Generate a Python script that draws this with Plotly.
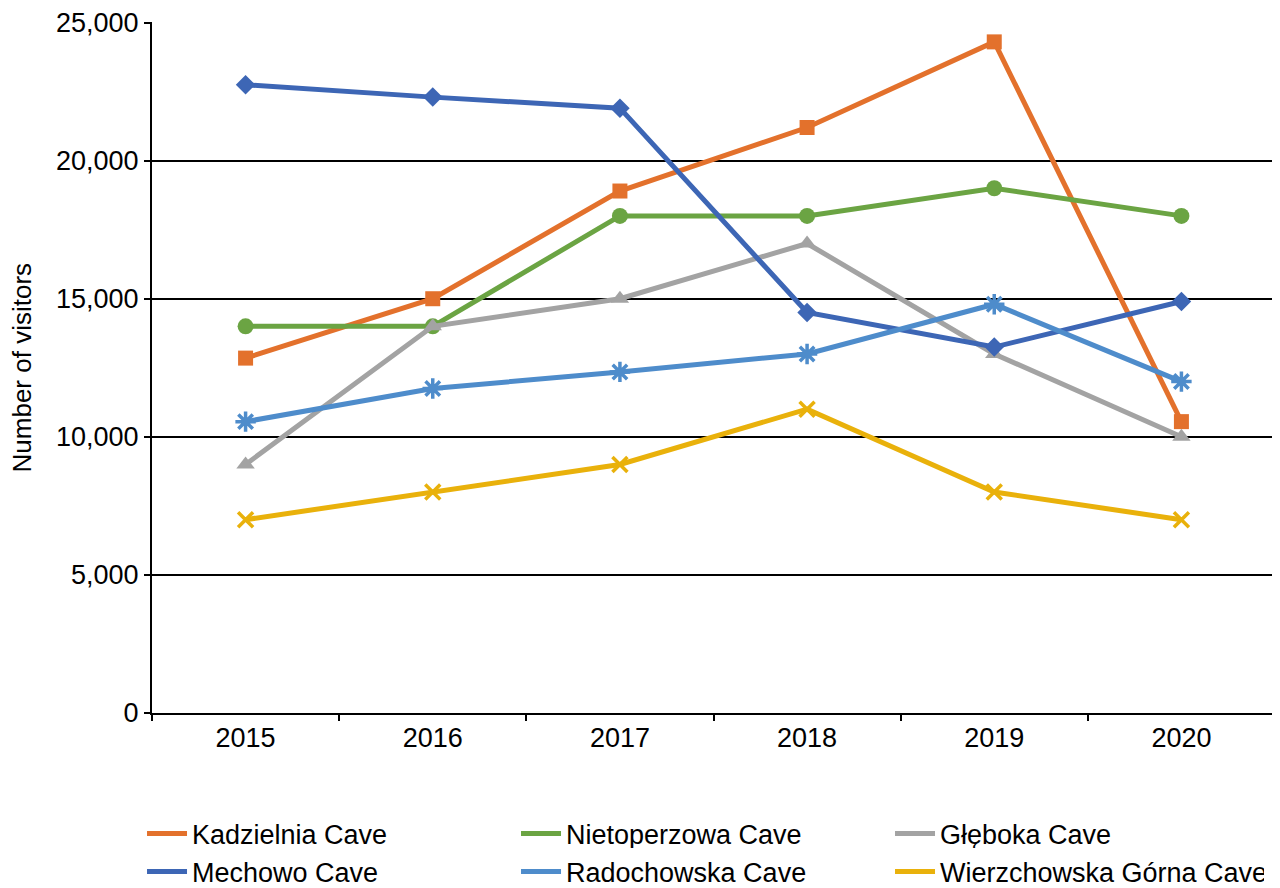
import plotly.graph_objects as go

years = ["2015", "2016", "2017", "2018", "2019", "2020"]

kadzielnia = [12850, 15000, 18900, 21200, 24300, 10550]
nietoperzowa = [14000, 14000, 18000, 18000, 19000, 18000]
gleboka = [9000, 14000, 15000, 17000, 13000, 10000]
mechowo = [22750, 22300, 21900, 14500, 13250, 14900]
radochowska = [10550, 11750, 12350, 13000, 14800, 12000]
wierzchowska = [7000, 8000, 9000, 11000, 8000, 7000]

# name, values, colour, symbol, size, marker line width, legend row
series = [
    ("Kadzielnia Cave", kadzielnia, "#E3712C", "square", 15, 0, "legend"),
    ("Nietoperzowa Cave", nietoperzowa, "#6BA443", "circle", 16, 0, "legend"),
    ("Głęboka Cave", gleboka, "#A3A3A3", "triangle-up", 16, 0, "legend"),
    ("Mechowo Cave", mechowo, "#3D66B5", "diamond", 15, 0, "legend2"),
    ("Radochowska Cave", radochowska, "#4E8CCB", "asterisk-open", 17, 3.5, "legend2"),
    ("Wierzchowska Górna Cave", wierzchowska, "#E9B10B", "x-thin-open", 15, 3.5, "legend2"),
]

fig = go.Figure()

# data traces (markers hidden from legend)
for name, vals, col, sym, sz, lw, lg in series:
    mk = dict(symbol=sym, size=sz, color=col)
    if lw:
        mk["line"] = dict(color=col, width=lw)
    fig.add_trace(go.Scatter(x=years, y=vals, mode="lines+markers", name=name,
                             line=dict(color=col, width=5), marker=mk,
                             showlegend=False))

# legend-only traces, lines without markers
for name, vals, col, sym, sz, lw, lg in series:
    fig.add_trace(go.Scatter(x=[None], y=[None], mode="lines", name=name,
                             line=dict(color=col, width=5), legend=lg))

leg = dict(orientation="h", xref="container", yref="container", x=0.1047,
           xanchor="left", yanchor="middle",
           entrywidth=319, entrywidthmode="pixels", itemwidth=40,
           font=dict(size=27))

fig.update_layout(
    width=1280, height=888,
    margin=dict(l=144, r=13, t=14, b=183, autoexpand=False),
    paper_bgcolor="white", plot_bgcolor="white",
    font=dict(family="Liberation Sans, Arial, sans-serif", size=27, color="black"),
    legend=dict(leg, y=0.0698),
    legend2=dict(leg, y=0.027),
    annotations=[dict(text="Number of visitors", textangle=-90, xref="paper",
                      yref="paper", x=-0.1158, y=0.5, xanchor="center",
                      yanchor="middle", showarrow=False, font=dict(size=26))],
)
fig.update_xaxes(type="category", showline=True, linecolor="black", linewidth=2,
                 ticks="outside", tickson="boundaries", ticklen=6, tickwidth=2,
                 tickcolor="black", showgrid=False, range=[-0.5, 5.5],
                 automargin=False)
fig.update_yaxes(range=[0, 25020], dtick=5000, tickformat=",", showline=True,
                 linecolor="black", linewidth=2, ticks="outside", ticklen=6,
                 tickwidth=2, tickcolor="black", showgrid=True, gridcolor="black",
                 gridwidth=2, zeroline=False, automargin=False,
                 ticklabeloverflow="allow")

fig.write_html("out.html")
